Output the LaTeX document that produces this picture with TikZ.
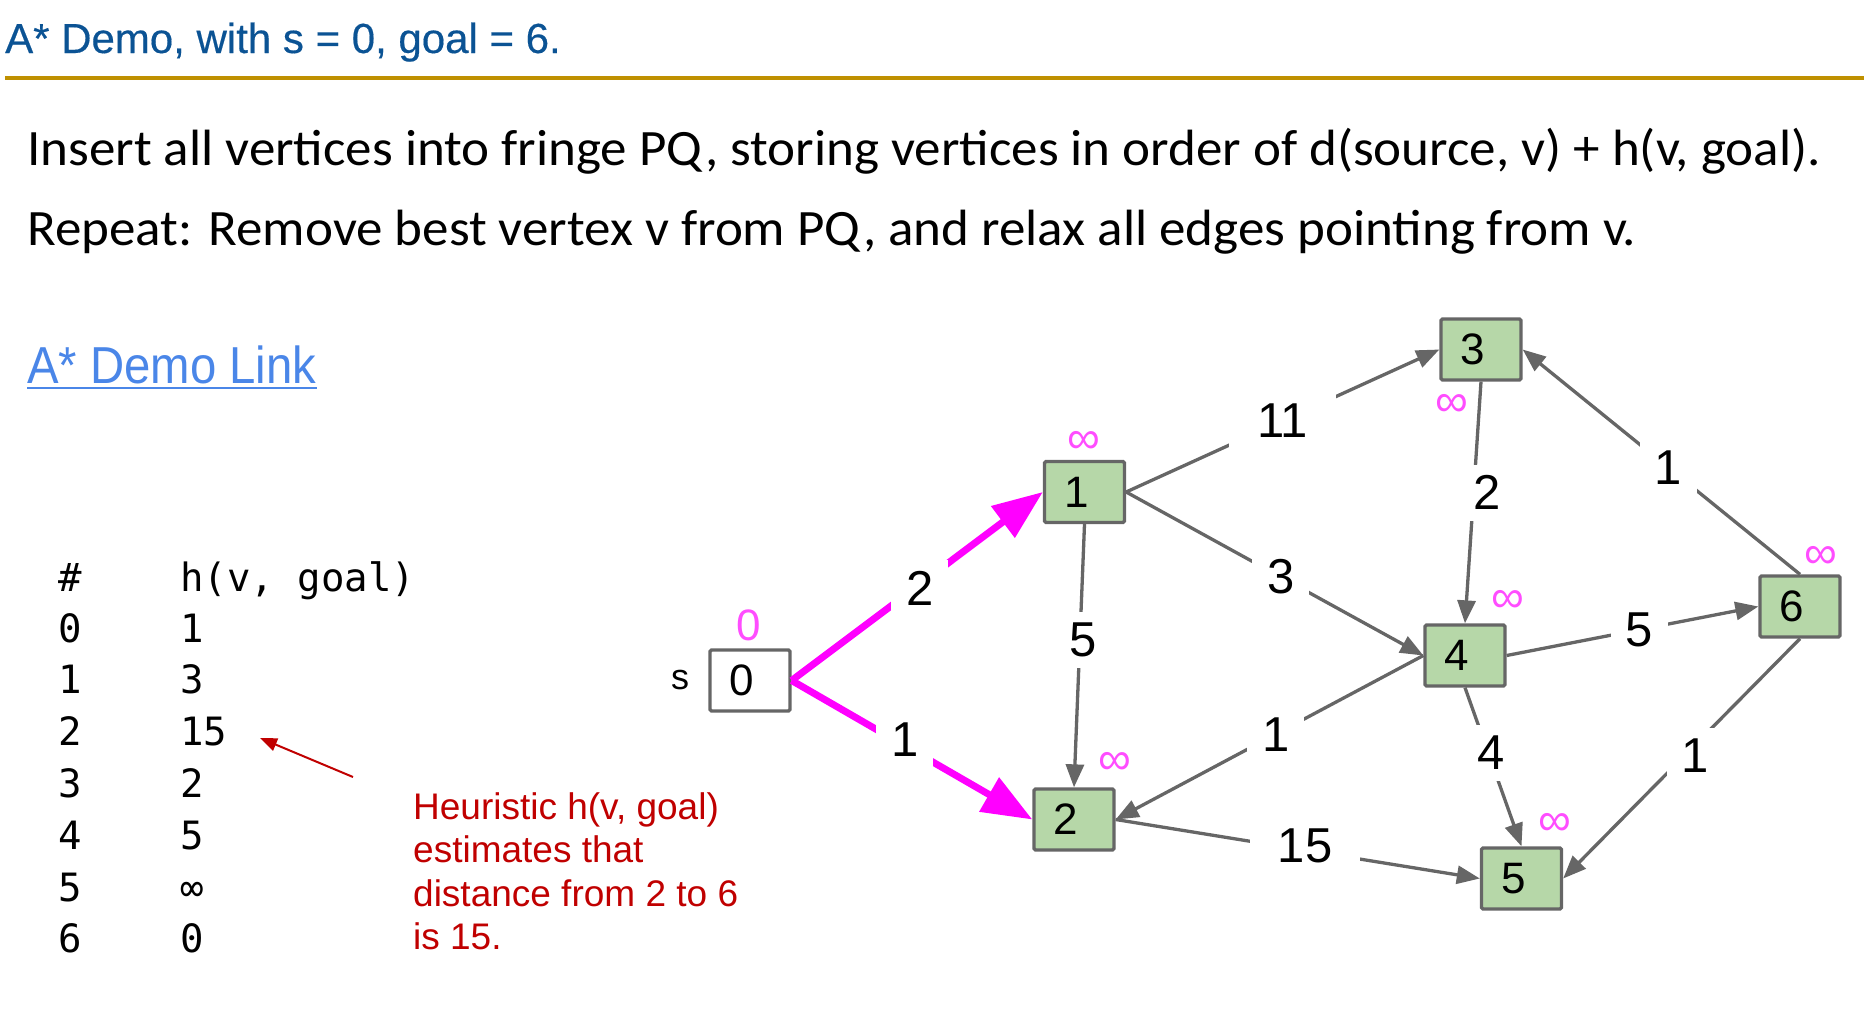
\documentclass[tikz,border=0pt]{standalone}
\usepackage{fontspec}
\setmainfont{Liberation Sans}
\newfontfamily\bodyfont{Carlito}
\newfontfamily\codefont{DejaVu Sans Mono}
\newfontfamily\headfont[FakeBold=0.4]{Liberation Sans}
\usetikzlibrary{arrows.meta}

\definecolor{titleblue}{HTML}{0B5394}
\definecolor{rulegold}{HTML}{BF9000}
\definecolor{linkblue}{HTML}{4A86E8}
\definecolor{vgreen}{HTML}{B6D7A8}
\definecolor{vgray}{HTML}{666666}
\definecolor{hot}{HTML}{FF00FF}
\definecolor{pinklabel}{HTML}{FF4DFF}
\definecolor{notered}{HTML}{C00000}

% vertex number, nudged a little left inside its box
\newcommand\vnum[1]{\hspace*{-16pt}#1}

\begin{document}
\begin{tikzpicture}[x=1pt,y=-1pt,
  vertex/.style={draw=vgray, line width=3.3pt, fill=vgreen,
    minimum width=80pt, minimum height=61pt, inner sep=0pt,
    rounded corners=1.5pt, font=\fontsize{44}{44}\selectfont},
  source/.style={vertex, fill=white},
  wt/.style={fill=white, inner xsep=15pt, inner ysep=11pt,
    font=\fontsize{49}{49}\selectfont},
  wtwide/.style={wt, inner xsep=28pt},
  dist/.style={text=pinklabel, inner sep=0pt, font=\fontsize{46}{46}\selectfont},
  edge/.style={draw=vgray, line width=3.3pt, -{Triangle[length=23pt,width=18pt]}},
  hotedge/.style={draw=hot, line width=7pt, -{Triangle[length=50pt,width=38pt]}},
  code/.style={anchor=base west, inner sep=0pt, font=\codefont\fontsize{39}{39}\selectfont},
  note/.style={anchor=base west, inner sep=0pt, text=notered, font=\fontsize{37}{37}\selectfont},
  body/.style={anchor=base west, inner sep=0pt, font=\bodyfont\fontsize{51}{51}\selectfont},
]
\useasboundingbox (0,0) rectangle (1864,1017);

% heading and rule
\node[anchor=base west, inner sep=0pt, text=titleblue,
  font=\headfont\fontsize{42}{42}\selectfont] (title) at (5,53) {A* Demo, with s = 0, goal = 6.};
\coordinate (ruleL) at (5,78);
\coordinate (ruleR) at (1864,78);
\draw[rulegold, line width=4pt] (ruleL) -- (ruleR);

% description
\node[body] (line1) at (27,165) {\scalebox{1.04}[1]{Insert all vertices into fringe PQ, storing vertices in order of d(source, v) + h(v, goal).}};
\node[body] (line2) at (27,245) {\scalebox{1.04}[1]{Repeat: Remove best vertex v from PQ, and relax all edges pointing from v.}};

% link
\node[anchor=base west, inner sep=0pt, text=linkblue,
  font=\fontsize{52}{52}\selectfont] (link) at (27,383) {\scalebox{0.91}[1]{A* Demo Link}};
\draw[linkblue, line width=2.6pt] ([yshift=-5pt]link.base west) -- ([yshift=-5pt]link.base east);

% heuristic table
\node[code] (hashcol) at (58,591) {\#};
\node[code] (hcol) at (180,591) {h(v, goal)};
\foreach \v/\h [count=\i from 0] in {0/1, 1/3, 2/15, 3/2, 4/5, 5/∞, 6/0} {
  \node[code] (id\i) at (58,642+51.8*\i) {\v};
  \node[code] (hv\i) at (180,642+51.8*\i) {\h};
}

% note about the heuristic
\coordinate (noteTail) at (353,777);
\coordinate (noteTip) at (260,738);
\draw[notered, line width=2pt, -{Triangle[length=17pt,width=13pt]}] (noteTail) -- (noteTip);
\node[note] (note1) at (413,819) {Heuristic h(v, goal)};
\node[note] (note2) at (413,862.6) {estimates that};
\node[note] (note3) at (413,906.2) {distance from 2 to 6};
\node[note] (note4) at (413,949.8) {is 15.};

% graph vertices
\node[source] (v0) at (750,680.5) {\vnum{0}};
\node[vertex] (v1) at (1084.5,492) {\vnum{1}};
\node[vertex] (v2) at (1074,819.5) {\vnum{2}};
\node[vertex] (v3) at (1481,349.5) {\vnum{3}};
\node[vertex] (v4) at (1465,655.5) {\vnum{4}};
\node[vertex] (v5) at (1521.5,878.5) {\vnum{5}};
\node[vertex] (v6) at (1800,606.5) {\vnum{6}};

\node[inner sep=0pt, font=\fontsize{36}{36}\selectfont] (slabel) at (680,680) {s};

% current distances
\node[dist, font=\fontsize{44}{44}\selectfont] (d0) at (749,625) {0};
\node[dist] (d1) at (1084,442) {∞};
\node[dist] (d2) at (1115,763) {∞};
\node[dist] (d3) at (1452,405) {∞};
\node[dist] (d4) at (1508,601) {∞};
\node[dist] (d5) at (1555,824) {∞};
\node[dist] (d6) at (1821,557) {∞};

% edges out of the source (being relaxed)
\draw[hotedge] (v0.east) -- node[wt, pos=0.51, yshift=-4pt] {2} (v1.west);
\draw[hotedge] (v0.east) -- node[wt, pos=0.47, yshift=6pt] {1} (v2.west);

% remaining edges
\draw[edge] (v1.south) -- node[wt, pos=0.44, xshift=3pt] {5} (v2.north);
\draw[edge] (v1.east) -- node[wtwide, pos=0.50] {11} (v3.west);
\draw[edge] (v1.east) -- node[wt, pos=0.52] {3} (v4.west);
\draw[edge] (v3.south) -- node[wt, pos=0.46, xshift=13pt] {2} (v4.north);
\draw[edge] (v6.north) -- node[wt, pos=0.475] {1} (v3.east);
\draw[edge] (v4.east) -- node[wt, pos=0.52, xshift=2pt] {5} (v6.west);
\draw[edge] (v4.west) -- node[wt, pos=0.48] {1} (v2.east);
\draw[edge] (v4.south) -- node[wt, pos=0.41, xshift=3pt] {4} (v5.north);
\draw[edge] (v6.south) -- node[wt, pos=0.45, xshift=2pt, yshift=-9pt] {1} (v5.east);
\draw[edge] (v2.east) -- node[wtwide, pos=0.52, yshift=4pt] {15} (v5.west);
\end{tikzpicture}
\end{document}
